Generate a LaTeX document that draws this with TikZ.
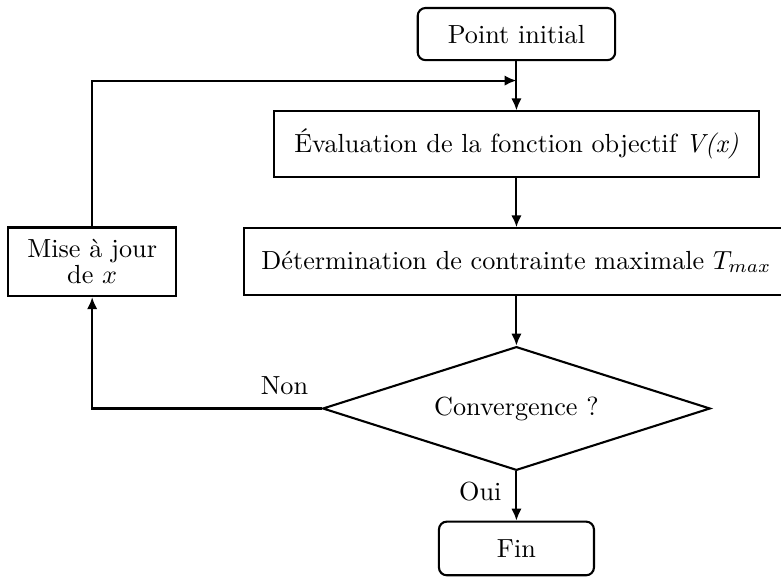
\documentclass[tikz,border=0pt]{standalone}
\usepackage{amsmath, amssymb}
\usepackage{fontspec}
\usepackage{tikz}
\usetikzlibrary{shapes.geometric, arrows.meta, positioning}

\begin{document}
\begin{tikzpicture}[
  node distance=0.66cm and 0.89cm,
  term/.style={rectangle, draw, thick, rounded corners=3pt, minimum height=0.70cm, align=center},
  block/.style={rectangle, draw, thick, minimum height=0.88cm, align=center},
  decision/.style={diamond, draw, thick, aspect=3.1, minimum width=5.2cm, minimum height=1.66cm, inner sep=0pt},
  lbl/.style={font=\normalsize},
  arr/.style={-{Latex[length=1.6mm, width=1.4mm]}, thick},
]
  \useasboundingbox (0,0) rectangle (10.48,-7.73);

  % Main column
  \node[term, minimum width=2.65cm] (init) at (6.93,-0.457) {Point initial};
  \node[block, minimum width=6.5cm, below=of init] (eval) {Évaluation de la fonction objectif \textit{V(x)}};
  \node[block, minimum width=7.3cm, minimum height=0.9cm, below=of eval] (det) {Détermination de contrainte maximale $T_{max}$};
  \node[decision, below=of det] (conv) {Convergence ?};
  \node[term, minimum width=2.08cm, minimum height=0.72cm, below=of conv] (fin) {Fin};

  % Update box
  \node[block, minimum width=2.25cm, minimum height=0.92cm, left=of det] (mise) {Mise à jour\\[-2pt] de $x$};

  % Junction of the loop
  \coordinate[above=0.40cm of eval.north] (join);

  % Arrows
  \draw[arr] (init) -- (eval);
  \draw[arr] (eval) -- (det);
  \draw[arr] (det) -- (conv);
  \draw[arr] (conv) -- node[lbl, left=2pt, pos=0.4] {Oui} (fin);

  % Loop back
  \draw[arr] (conv.west) -| node[lbl, pos=0, above left=2pt] {Non} (mise.south);
  \draw[arr] (mise.north) |- (join);

\end{tikzpicture}
\end{document}
